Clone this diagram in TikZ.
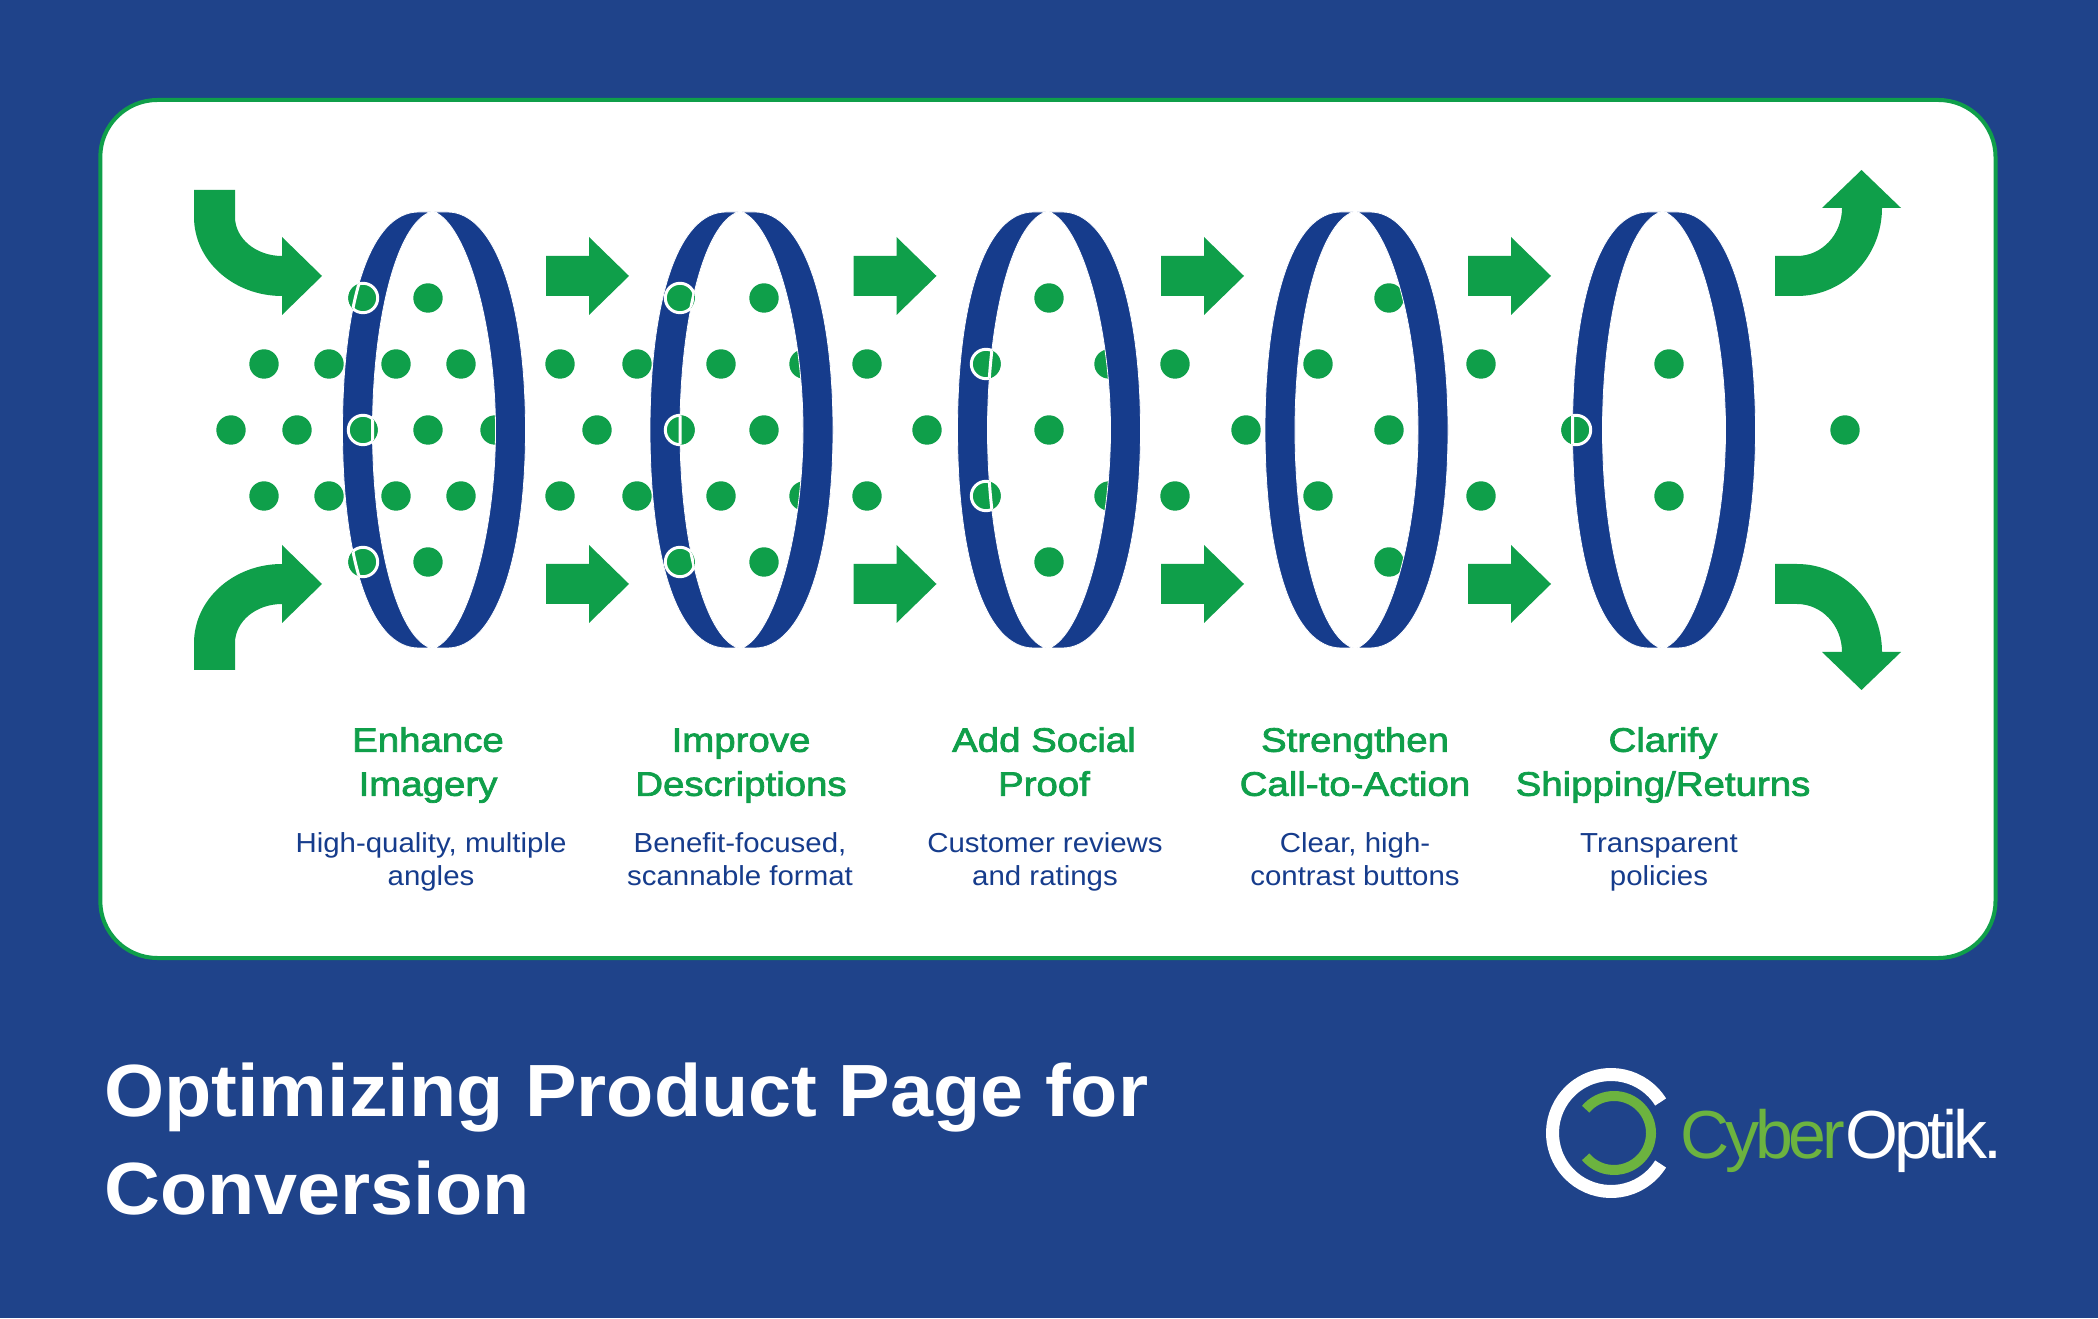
\documentclass[tikz,border=0pt]{standalone}
\usepackage{fontspec}
\setmainfont{Liberation Sans}
\newfontfamily\logofont[LetterSpace=-6]{Liberation Sans}
\newfontfamily\stepfont[FakeStretch=1.13,FakeBold=2.2]{Liberation Sans}
\newfontfamily\notefont[FakeStretch=1.07]{Liberation Sans}
\newfontfamily\titlefont[FakeStretch=1.045]{Liberation Sans Bold}
\usepackage{tikz}

\definecolor{pageblue}{HTML}{1F438A}
\definecolor{lensblue}{HTML}{163C8C}
\definecolor{flowgreen}{HTML}{0F9F4A}
\definecolor{logogreen}{HTML}{6CB33F}

\tikzset{
	arrowshape/.style={fill=flowgreen},
	flowdot/.style={fill=flowgreen},
	lensband/.style={fill=lensblue,draw=white,line width=.8pt},
	steptitle/.style={text=flowgreen,align=center,font=\fontsize{34}{44}\selectfont\stepfont},
	stepnote/.style={text=lensblue,align=center,font=\fontsize{27.5}{33}\selectfont\notefont},
}

% the two halves of a lens, cut at the top and bottom
\newcommand{\bandleft}[1]{(#1-2,1106) -- (#1-14,1106) .. controls (#1-62,1106) and (#1-90,1018) .. (#1-90,888) .. controls (#1-90,758) and (#1-62,670) .. (#1-14,670) -- (#1-2,670) .. controls (#1-36,682) and (#1-60,778) .. (#1-60,888) .. controls (#1-60,998) and (#1-36,1094) .. (#1-2,1106) -- cycle}
\newcommand{\bandright}[1]{(#1+2,1106) -- (#1+15,1106) .. controls (#1+62,1106) and (#1+93,1018) .. (#1+93,888) .. controls (#1+93,758) and (#1+62,670) .. (#1+15,670) -- (#1+2,670) .. controls (#1+34,683) and (#1+63,783) .. (#1+63,888) .. controls (#1+63,993) and (#1+34,1093) .. (#1+2,1106) -- cycle}

\begin{document}
\begin{tikzpicture}[x=1pt,y=1pt]
	\useasboundingbox (0,0) rectangle (2098,1318);
	\fill[pageblue] (0,0) rectangle (2098,1318);
	\draw[fill=white,draw=flowgreen,line width=4pt,rounded corners=57pt] (100.3,360) rectangle (1995.5,1218);

	% curved arrows in
	\fill[arrowshape] (194,1128) -- (194,1101) arc[start angle=180,end angle=270,x radius=88,y radius=79] -- (282,1003) -- (322,1042) -- (282,1081) -- (282,1062) arc[start angle=270,end angle=180,x radius=47,y radius=39] -- (235,1128) -- cycle;
	\fill[arrowshape] (194,648) -- (194,675) arc[start angle=180,end angle=90,x radius=88,y radius=79] -- (282,773) -- (322,734) -- (282,695) -- (282,714) arc[start angle=90,end angle=180,x radius=47,y radius=39] -- (235,648) -- cycle;

	% curved arrows out
	\fill[arrowshape] (1775,1022) -- (1797,1022) arc[start angle=-90,end angle=0,x radius=85,y radius=88] -- (1901,1110) -- (1861.5,1148) -- (1822,1110) -- (1842,1110) arc[start angle=0,end angle=-90,x radius=45,y radius=48] -- (1775,1062) -- cycle;
	\fill[arrowshape] (1775,754) -- (1797,754) arc[start angle=90,end angle=0,x radius=85,y radius=88] -- (1901,666) -- (1861.5,628) -- (1822,666) -- (1842,666) arc[start angle=0,end angle=90,x radius=45,y radius=48] -- (1775,714) -- cycle;

	% straight arrows
	\foreach \x in {546,853.5,1161,1468}{
		\fill[arrowshape] (\x,1022) -- (\x+43,1022) -- (\x+43,1003) -- (\x+83,1042) -- (\x+43,1081) -- (\x+43,1062) -- (\x,1062) -- cycle;
		\fill[arrowshape] (\x,714) -- (\x+43,714) -- (\x+43,695) -- (\x+83,734) -- (\x+43,773) -- (\x+43,754) -- (\x,754) -- cycle;
	}

	% dots on the middle row
	\foreach \x in {231,297,363,428,495,597,680,764,927,1049,1246,1389,1576,1845}{
		\fill[flowdot] (\x,888) circle (14.7);
	}
	% dots one row off the middle
	\foreach \x in {264,329,396,461,560,637,721,804,867,986,1109,1175,1318,1481,1669}{
		\fill[flowdot] (\x,954) circle (14.7);
		\fill[flowdot] (\x,822) circle (14.7);
	}
	% dots two rows off the middle
	\foreach \x in {363,428,680,764,1049,1389}{
		\fill[flowdot] (\x,1020) circle (14.7);
		\fill[flowdot] (\x,756) circle (14.7);
	}

	% lenses
	\foreach \cx in {432.5,740,1047.5,1355,1662.5}{
		\draw[lensband] \bandleft{\cx};
		\draw[lensband] \bandright{\cx};
	}

	% dots that pass in front of a lens
	\foreach \x/\y/\cx in {363/1020/432.5,363/888/432.5,363/756/432.5,680/1020/740,680/888/740,680/756/740,986/954/1047.5,986/822/1047.5,1576/888/1662.5}{
		\fill[flowdot] (\x,\y) circle (14.7);
		\begin{scope}
			\clip \bandleft{\cx};
			\draw[flowdot,draw=white,line width=3pt] (\x,\y) circle (14.7);
		\end{scope}
		\begin{scope}
			\clip (\x,\y) circle (14.7);
			\draw[draw=white,line width=3pt] \bandleft{\cx};
		\end{scope}
	}

	% step labels
	\node[steptitle] (imagery) at (428,553) {\strut Enhance\\\strut Imagery};
	\node[steptitle] (descriptions) at (741,553) {\strut Improve\\\strut Descriptions};
	\node[steptitle] (proof) at (1044,553) {\strut Add Social\\\strut Proof};
	\node[steptitle] (action) at (1355,553) {\strut Strengthen\\\strut Call-to-Action};
	\node[steptitle] (shipping) at (1663,553) {\strut Clarify\\\strut Shipping/Returns};

	\node[stepnote] (imagerynote) at (431,455.4) {\strut High-quality, multiple\\\strut angles};
	\node[stepnote] (descriptionsnote) at (740,455.4) {\strut Benefit-focused,\\\strut scannable format};
	\node[stepnote] (proofnote) at (1045,455.4) {\strut Customer reviews\\\strut and ratings};
	\node[stepnote] (actionnote) at (1355,455.4) {\strut Clear, high-\\\strut contrast buttons};
	\node[stepnote] (shippingnote) at (1659,455.4) {\strut Transparent\\\strut policies};

	% title
	\node[anchor=west,text=white,align=left,inner sep=0pt,font=\fontsize{74}{98}\selectfont\titlefont] (title) at (104,179) {Optimizing Product Page for\\Conversion};

	% logo
	\draw[white,line width=13pt] (1611,185) ++(32:58.5) arc[start angle=32,end angle=328,radius=58.5];
	\draw[logogreen,line width=10pt] (1614,185) ++(140:37) arc[start angle=140,end angle=-140,radius=37];
	\node[anchor=base west,inner sep=0pt,font=\fontsize{68}{68}\logofont] (logotext) at (1680,160) {\textcolor{logogreen}{Cyber}\textcolor{white}{Optik.}};
\end{tikzpicture}
\end{document}
